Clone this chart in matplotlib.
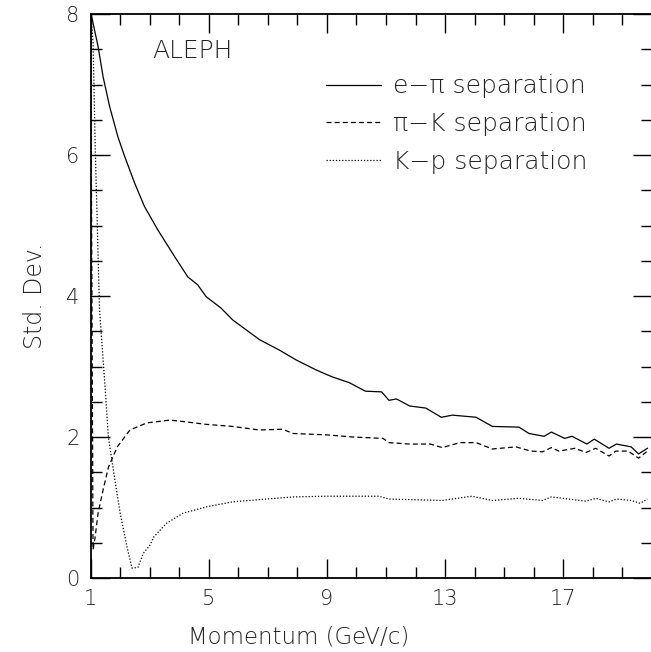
"""
dE/dx particle separation vs momentum (ALEPH TPC).
"""
import matplotlib
matplotlib.use("Agg")
import matplotlib.pyplot as plt

# e-pi separation (solid)
p_epi = [1.0, 1.02, 1.25, 1.42, 1.64, 1.92, 2.15, 2.49, 2.82, 3.27, 3.84,
         4.29, 4.62, 4.91, 5.41, 5.81, 6.72, 7.4, 7.97, 8.64, 9.08, 9.2, 9.76,
         10.3, 10.85, 11.1, 11.35, 11.8, 12.35, 12.87, 13.25, 14.05, 14.6,
         15.5, 15.84, 16.35, 16.6, 17.05, 17.3, 17.8, 18.05, 18.55, 18.8,
         19.3, 19.55, 19.85]
s_epi = [8.0, 7.99, 7.54, 7.11, 6.69, 6.26, 5.98, 5.60, 5.27, 4.94, 4.56,
         4.27, 4.16, 3.99, 3.83, 3.66, 3.38, 3.23, 3.09, 2.95, 2.87, 2.85, 2.77,
         2.65, 2.64, 2.52, 2.54, 2.44, 2.41, 2.28, 2.31, 2.28, 2.15,
         2.14, 2.05, 2.01, 2.07, 1.98, 2.01, 1.90, 1.97, 1.84, 1.90,
         1.86, 1.76, 1.84]

# pi-K separation (dashed)
p_pik = [1.0, 1.08, 1.15, 1.25, 1.42, 1.6, 1.9, 2.33, 2.9, 3.68, 4.12, 4.9,
         5.8, 6.7, 7.5, 7.85, 9.0, 9.87, 10.9, 11.1, 11.8, 12.5, 12.9, 13.5,
         14.05, 14.6, 15.4, 15.9, 16.3, 16.6, 16.85, 17.4, 17.77, 18.1,
         18.55, 18.78, 19.2, 19.55, 19.85]
s_pik = [8.0, 0.40, 0.58, 0.92, 1.25, 1.57, 1.86, 2.10, 2.20, 2.24, 2.22, 2.18,
         2.15, 2.10, 2.11, 2.05, 2.03, 2.00, 1.98, 1.92, 1.90, 1.90, 1.85, 1.92,
         1.92, 1.83, 1.86, 1.80, 1.79, 1.85, 1.80, 1.84, 1.78, 1.84,
         1.73, 1.80, 1.80, 1.70, 1.80]

# K-p separation (dotted)
p_kp = [1.0, 1.08, 1.16, 1.3, 1.48, 1.6, 1.76, 1.99, 2.23, 2.4, 2.6,
        2.78, 3.0, 3.13, 3.58, 4.13, 4.93, 5.8, 6.95, 7.85, 9.0, 10.75, 11.1,
        12.9, 13.9, 14.6, 15.5, 16.3, 16.6, 17.77, 18.1, 18.55, 18.8, 19.3,
        19.6, 19.85]
s_kp = [8.0, 7.6, 6.0, 3.8, 2.75, 2.0, 1.55, 0.94, 0.44, 0.14, 0.15,
        0.35, 0.46, 0.58, 0.78, 0.92, 1.01, 1.08, 1.12, 1.15, 1.16, 1.16, 1.12,
        1.10, 1.16, 1.10, 1.13, 1.10, 1.15, 1.09, 1.13, 1.08, 1.12, 1.10,
        1.06, 1.12]

labels = ["e\u2212\u03c0 separation", "\u03c0\u2212K separation",
          "K\u2212p separation"]

x_major = [1, 5, 9, 13, 17]
x_minor = list(range(1, 21))
y_major = [0, 2, 4, 6, 8]
y_minor = [i * 0.5 for i in range(17)]

plt.rcParams["font.family"] = ["DejaVu Sans"]
plt.rcParams["font.weight"] = "light"
INK = "#222222"

fig = plt.figure(figsize=(6.51, 6.52), dpi=100)
ax = fig.add_axes([0.1393, 0.1135, 0.862, 0.865])

l1, = ax.plot(p_epi, s_epi, color="black", lw=0.9, ls="-")
l2, = ax.plot(p_pik, s_pik, color="black", lw=0.9, ls=(0, (4, 2.5)))
l3, = ax.plot(p_kp, s_kp, color="black", lw=0.9, ls=(0, (1, 1.5)))

ax.set_xlim(1, 20)
ax.set_ylim(0, 8)

for side in ["left", "bottom", "top"]:
    ax.spines[side].set_linewidth(1.3)
    ax.spines[side].set_color("black")
ax.spines["right"].set_visible(False)

ax.set_xticks(x_major)
ax.set_xticks(x_minor, minor=True)
ax.set_yticks(y_major)
ax.set_yticks(y_minor, minor=True)

ax.tick_params(which="both", direction="in", top=True, right=True,
               color="black", width=1.0)
ax.tick_params(which="major", length=14, labelsize=15, labelcolor=INK, pad=8)
ax.tick_params(which="minor", length=8)

ax.set_xlabel("Momentum (GeV/c)", fontsize=16.5, color=INK,
              fontweight="light")
ax.xaxis.set_label_coords(0.37, -0.085)
ax.set_ylabel("Std. Dev.", fontsize=17, color=INK, fontweight="light",
              labelpad=14)

ax.text(0.11, 0.934, "ALEPH", transform=ax.transAxes, fontsize=18,
        color=INK, ha="left", va="center")

leg = ax.legend([l1, l2, l3], labels, loc="upper left",
                bbox_to_anchor=(0.42, 0.893), frameon=False, fontsize=18,
                handlelength=2.2, handletextpad=0.45, labelspacing=0.55,
                borderaxespad=0, borderpad=0)
for t in leg.get_texts():
    t.set_color(INK)

fig.savefig("out.png", dpi=100)
